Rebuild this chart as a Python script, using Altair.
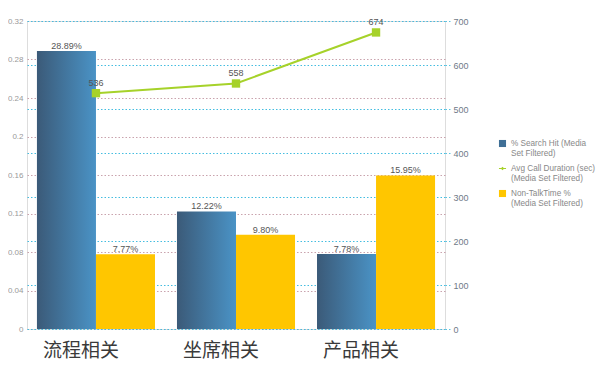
import altair as alt
import pandas as pd

categories = ["流程相关", "坐席相关", "产品相关"]
search_hit = [0.2889, 0.1222, 0.0778]
non_talk = [0.0777, 0.0980, 0.1595]
avg_duration = [536, 558, 674]
series_names = [
    "% Search Hit (Media|Set Filtered)",
    "Avg Call Duration (sec)|(Media Set Filtered)",
    "Non-TalkTime %|(Media Set Filtered)",
]
colors = ["#3f6f96", "#a6d22a", "#ffc600"]

FONT = "Liberation Sans"
CJK = "Noto Sans CJK SC"

blue_df = pd.DataFrame({"cat": categories, "val": search_hit, "s": "a"})
yellow_df = pd.DataFrame({"cat": categories, "val": non_talk, "s": "b"})
line_df = pd.DataFrame({"cat": categories, "val": avg_duration})
legend_df = pd.DataFrame({"series": series_names})

xscale = alt.Scale(domain=categories, paddingInner=0.157, paddingOuter=0.071)
xoff = alt.XOffset("s:N", scale=alt.Scale(domain=["a", "b"], paddingInner=0, paddingOuter=0))
x_enc = alt.X(
    "cat:N", scale=xscale, sort=categories, title=None,
    axis=alt.Axis(labelAngle=0, labelFont=CJK, labelFontSize=19, labelColor="#3a3a3a",
                  labelPadding=12, domain=False, ticks=False, labelOffset=-15),
)
yleft = alt.Y(
    "val:Q", scale=alt.Scale(domain=[0, 0.32], nice=False), title=None,
    axis=alt.Axis(values=[0, 0.04, 0.08, 0.12, 0.16, 0.2, 0.24, 0.28, 0.32], format="~g",
                  labelFont=FONT, labelFontSize=8, labelColor="#999999", domain=False,
                  ticks=False, labelPadding=4, grid=True, gridColor="#c9a3ad",
                  gridDash=[1.5, 2], gridWidth=1),
)

gradient = {
    "x1": 0, "y1": 0, "x2": 1, "y2": 0, "gradient": "linear",
    "stops": [{"offset": 0, "color": "#3b5a78"}, {"offset": 1, "color": "#4a93c6"}],
}

blue_bars = alt.Chart(blue_df).mark_bar(color=gradient).encode(x=x_enc, xOffset=xoff, y=yleft)
yellow_bars = alt.Chart(yellow_df).mark_bar(color="#ffc600").encode(x=x_enc, xOffset=xoff, y=yleft)
blue_text = alt.Chart(blue_df).mark_text(dy=-5, font=FONT, fontSize=9, color="#555555").encode(
    x=x_enc, xOffset=xoff, y=yleft, text=alt.Text("val:Q", format=".2%"))
yellow_text = alt.Chart(yellow_df).mark_text(dy=-5, font=FONT, fontSize=9, color="#555555").encode(
    x=x_enc, xOffset=xoff, y=yleft, text=alt.Text("val:Q", format=".2%"))

bars = alt.layer(blue_bars, yellow_bars, blue_text, yellow_text)

yright = alt.Y(
    "val:Q", scale=alt.Scale(domain=[0, 700], nice=False), title=None,
    axis=alt.Axis(orient="right", values=[0, 100, 200, 300, 400, 500, 600, 700],
                  labelFont=FONT, labelFontSize=9, labelColor="#6f7a88", domain=False,
                  ticks=True, tickColor="#5cc4e0", tickDash=[1.5, 2], tickSize=5,
                  labelPadding=3, grid=True, gridColor="#44bde0", gridDash=[1.5, 2], gridWidth=1),
)
line = alt.Chart(line_df).mark_line(color="#a6d22a", strokeWidth=2).encode(x=x_enc, y=yright)
pts = alt.Chart(line_df).mark_point(shape="square", filled=True, color="#a6d22a", size=70, opacity=1).encode(x=x_enc, y=yright)
ltext = alt.Chart(line_df).mark_text(dy=-10, font=FONT, fontSize=9, color="#555555").encode(
    x=x_enc, y=yright, text="val:Q")
lines = alt.layer(line, pts, ltext)

legend_layer = alt.Chart(legend_df).mark_point(filled=True, opacity=0).encode(
    x=alt.value(0), y=alt.value(0),
    color=alt.Color("series:N", scale=alt.Scale(domain=series_names, range=colors),
                    legend=alt.Legend(title=None, orient="none", legendX=471, legendY=118,
                                      labelExpr="split(datum.label, '|')", labelFont=FONT,
                                      labelFontSize=8.2, labelColor="#888888", symbolOpacity=1,
                                      symbolSize=50, rowPadding=6, labelLimit=200, labelOffset=4)),
    shape=alt.Shape("series:N", scale=alt.Scale(
        domain=series_names,
        range=["square", "M-1,-0.12H1V0.12H-1Z M0,-0.5L0.5,0L0,0.5L-0.5,0Z", "square"]),
        legend=None),
)

chart = alt.layer(bars, lines, legend_layer).resolve_scale(y="independent").properties(
    width=418, height=308,
    autosize=alt.AutoSizeParams(type="none"),
    padding={"left": 19, "top": 13, "right": 155, "bottom": 40},
).configure_view(stroke=None).configure(background="white")

chart.save("out.html", embed_options={"renderer": "svg", "actions": False})
